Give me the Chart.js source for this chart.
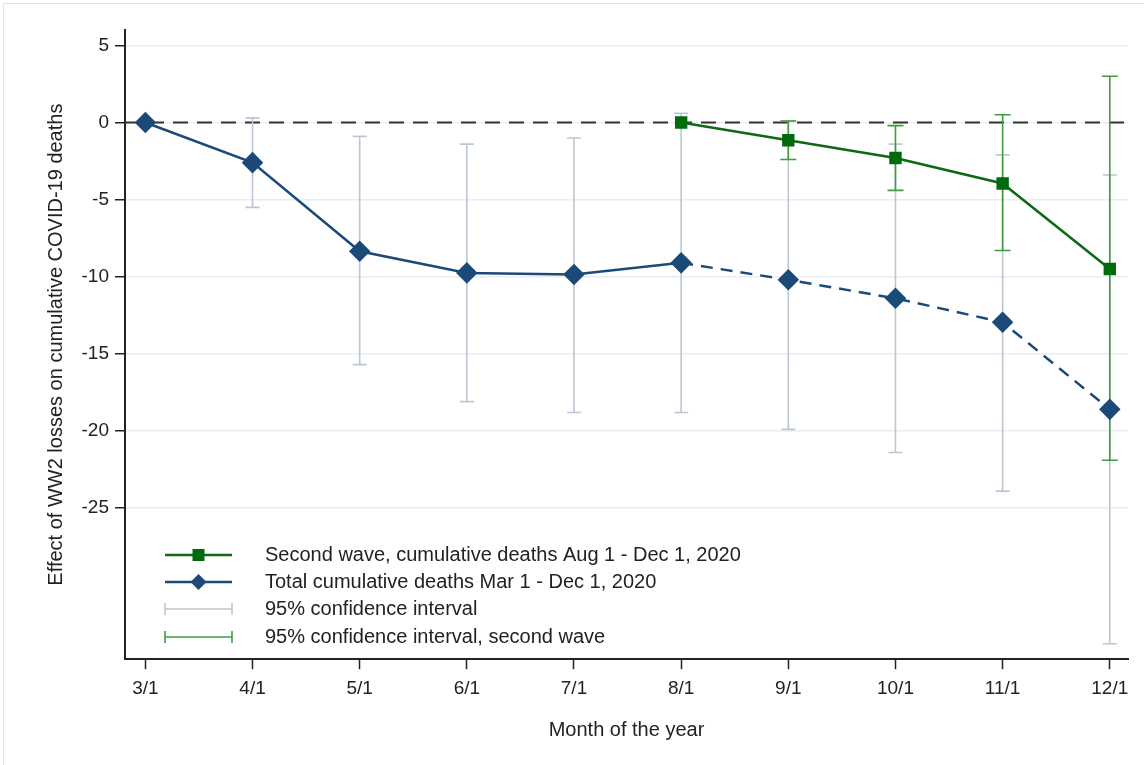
<!DOCTYPE html>
<html>
<head>
<meta charset="utf-8">
<script src="https://cdn.jsdelivr.net/npm/chart.js@4"></script>
<style>
  html, body { margin: 0; padding: 0; background: #fff; }
  #wrap { position: relative; width: 1144px; height: 765px; }
  #frame { position: absolute; left: 3px; top: 3px; right: 0; bottom: 0; border-left: 1px solid #e4e4e4; border-top: 1px solid #e4e4e4; pointer-events: none; }
</style>
</head>
<body>
<div id="wrap">
  <canvas id="chart" width="1144" height="765"></canvas>
  <div id="frame"></div>
</div>
<script>
// Chart data
const monthLabels = ['3/1', '4/1', '5/1', '6/1', '7/1', '8/1', '9/1', '10/1', '11/1', '12/1'];
const yTickValues = [5, 0, -5, -10, -15, -20, -25];

// total cumulative deaths Mar 1 - Dec 1
const totalEffect = [0, -2.6, -8.35, -9.75, -9.85, -9.1, -10.2, -11.4, -12.95, -18.6];
const totalCiHigh = [null, 0.3, -0.9, -1.4, -1.0, 0.6, 0.1, -1.4, -2.1, -3.4];
const totalCiLow  = [null, -5.5, -15.7, -18.1, -18.8, -18.8, -19.9, -21.4, -23.9, -33.8];

// second wave Aug 1 - Dec 1 (starts at 8/1)
const waveStart = 5;
const waveEffect = [0, -1.15, -2.3, -3.95, -9.5];
const waveCiHigh = [null, 0.1, -0.2, 0.5, 3.0];
const waveCiLow  = [null, -2.4, -4.4, -8.3, -21.9];

const blue = '#1c4a78';
const green = '#0d6a12';
const greenMarker = '#006b0c';
const greyCi = '#bcc7d3';
const greenCi = '#3f9d3f';

const FONT = "'Liberation Sans', Arial, sans-serif";

function drawCi(ctx, x, y, xs, lows, highs, color, cap) {
  ctx.save();
  ctx.strokeStyle = color;
  ctx.lineWidth = 1.6;
  lows.forEach((lo, i) => {
    const hi = highs[i];
    if (lo === null || hi === null) return;
    const px = x.getPixelForValue(xs[i]);
    const pLo = y.getPixelForValue(lo);
    const pHi = y.getPixelForValue(hi);
    ctx.beginPath();
    ctx.moveTo(px, pHi); ctx.lineTo(px, pLo);
    ctx.moveTo(px - cap, pHi); ctx.lineTo(px + cap, pHi);
    ctx.moveTo(px - cap, pLo); ctx.lineTo(px + cap, pLo);
    ctx.stroke();
  });
  ctx.restore();
}

const ciPlugin = {
  id: 'ciBars',
  beforeDatasetsDraw(chart) {
    const { ctx, chartArea, scales: { x, y } } = chart;
    // zero reference line
    ctx.save();
    ctx.strokeStyle = '#333';
    ctx.lineWidth = 2;
    ctx.setLineDash([15, 9]);
    ctx.beginPath();
    const y0 = y.getPixelForValue(0);
    ctx.moveTo(chartArea.left, y0);
    ctx.lineTo(chartArea.right, y0);
    ctx.stroke();
    ctx.restore();

    drawCi(ctx, x, y, monthLabels.map((_, i) => i), totalCiLow, totalCiHigh, greyCi, 7);
    drawCi(ctx, x, y, waveEffect.map((_, i) => i + waveStart), waveCiLow, waveCiHigh, greenCi, 8);
  },
  afterDraw(chart) {
    const { ctx, chartArea } = chart;
    const x1 = chartArea.left + 40, x2 = chartArea.left + 107, xm = (x1 + x2) / 2;
    const tx = chartArea.left + 140;
    const rows = [555, 582, 609, 637];
    ctx.save();
    ctx.font = '20px ' + FONT;
    ctx.fillStyle = '#222';
    ctx.textBaseline = 'middle';

    // second wave
    ctx.strokeStyle = green; ctx.lineWidth = 2.5;
    ctx.beginPath(); ctx.moveTo(x1, rows[0]); ctx.lineTo(x2, rows[0]); ctx.stroke();
    ctx.fillStyle = greenMarker;
    ctx.fillRect(xm - 6, rows[0] - 6, 12, 12);
    // total
    ctx.strokeStyle = blue;
    ctx.beginPath(); ctx.moveTo(x1, rows[1]); ctx.lineTo(x2, rows[1]); ctx.stroke();
    ctx.fillStyle = blue;
    ctx.beginPath();
    ctx.moveTo(xm, rows[1] - 8); ctx.lineTo(xm + 8, rows[1]);
    ctx.lineTo(xm, rows[1] + 8); ctx.lineTo(xm - 8, rows[1]);
    ctx.closePath(); ctx.fill();
    // ci samples
    [[rows[2], greyCi], [rows[3], greenCi]].forEach(([ry, c]) => {
      ctx.strokeStyle = c; ctx.lineWidth = 1.6;
      ctx.beginPath();
      ctx.moveTo(x1, ry); ctx.lineTo(x2, ry);
      ctx.moveTo(x1, ry - 6); ctx.lineTo(x1, ry + 6);
      ctx.moveTo(x2, ry - 6); ctx.lineTo(x2, ry + 6);
      ctx.stroke();
    });

    ctx.fillStyle = '#222';
    ctx.fillText('Second wave, cumulative deaths Aug 1 - Dec 1, 2020', tx, rows[0]);
    ctx.fillText('Total cumulative deaths Mar 1 - Dec 1, 2020', tx, rows[1]);
    ctx.fillText('95% confidence interval', tx, rows[2]);
    ctx.fillText('95% confidence interval, second wave', tx, rows[3]);
    ctx.restore();
  }
};

new Chart(document.getElementById('chart'), {
  type: 'line',
  data: {
    datasets: [
      {
        label: 'Second wave, cumulative deaths Aug 1 - Dec 1, 2020',
        data: waveEffect.map((v, i) => ({ x: i + waveStart, y: v })),
        borderColor: green,
        borderWidth: 2.5,
        pointStyle: 'rect',
        pointRadius: 7,
        pointBackgroundColor: greenMarker,
        pointBorderColor: greenMarker,
        tension: 0
      },
      {
        label: 'Total cumulative deaths Mar 1 - Dec 1, 2020',
        data: totalEffect.map((v, i) => ({ x: i, y: v })),
        borderColor: blue,
        borderWidth: 2.5,
        pointStyle: 'rectRot',
        pointRadius: 9,
        pointBackgroundColor: blue,
        pointBorderColor: blue,
        tension: 0,
        segment: {
          borderDash: ctx => ctx.p0DataIndex >= waveStart ? [12, 8] : undefined
        }
      }
    ]
  },
  options: {
    responsive: false,
    animation: false,
    layout: { padding: { top: 30, right: 16, left: 44, bottom: 23 } },
    plugins: {
      legend: { display: false },
      tooltip: { enabled: false }
    },
    scales: {
      x: {
        type: 'linear',
        min: -0.19,
        max: 9.17,
        afterBuildTicks: scale => { scale.ticks = monthLabels.map((_, i) => ({ value: i })); },
        ticks: {
          callback: v => monthLabels[v],
          font: { family: FONT, size: 19 },
          color: '#222',
          padding: 8,
          maxRotation: 0,
          autoSkip: false
        },
        grid: { drawOnChartArea: false, tickLength: 10, tickColor: '#222', tickWidth: 1.5 },
        border: { color: '#222', width: 2 },
        title: {
          display: true,
          text: 'Month of the year',
          font: { family: FONT, size: 20 },
          color: '#222',
          padding: { top: 10, bottom: 0 }
        }
      },
      y: {
        min: -34.8,
        max: 6.0,
        afterBuildTicks: scale => { scale.ticks = yTickValues.map(v => ({ value: v })); },
        afterFit: scale => { scale.width = 81; },
        ticks: {
          font: { family: FONT, size: 19 },
          color: '#222',
          padding: 6
        },
        grid: { color: '#e9ecf0', lineWidth: 1.5, tickLength: 10, tickColor: '#222', tickWidth: 1.5 },
        border: { color: '#222', width: 2 },
        title: {
          display: true,
          text: 'Effect of WW2 losses on cumulative COVID-19 deaths',
          font: { family: FONT, size: 20 },
          color: '#222',
          padding: { top: 0, bottom: 0 }
        }
      }
    }
  },
  plugins: [ciPlugin]
});
</script>
</body>
</html>
